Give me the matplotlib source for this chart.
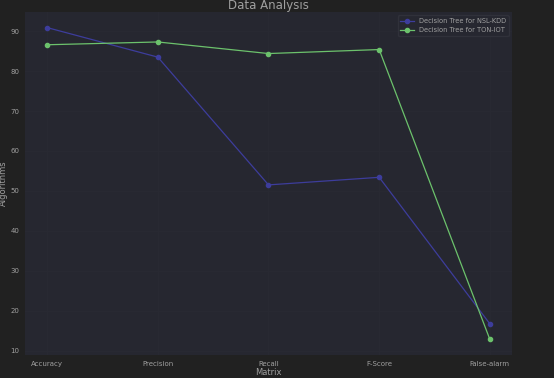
import matplotlib.pyplot as plt

# data
metrics = ["Accuracy", "Precision", "Recall", "F-Score", "False-alarm"]
nsl_kdd = [90.9, 83.5, 51.5, 53.4, 16.7]
ton_iot = [86.6, 87.3, 84.4, 85.4, 12.8]

fig = plt.figure(figsize=(5.54, 3.78), dpi=100, facecolor="#212121")
ax = fig.add_axes([25 / 554, 1 - 355 / 378, 487 / 554, 343 / 378])
ax.set_facecolor("#262730")

ax.plot(metrics, nsl_kdd, marker="o", markersize=3, linewidth=0.9,
        color="#3d3d9c", label="Decision Tree for NSL-KDD")
ax.plot(metrics, ton_iot, marker="o", markersize=3, linewidth=0.9,
        color="#6cc26c", label="Decision Tree for TON-IOT")

ax.grid(True, color="#292a33", linewidth=0.6)
ax.set_axisbelow(True)
for s in ax.spines.values():
    s.set_visible(False)

txt = "#a0a0a0"
ax.tick_params(colors=txt, labelsize=5, length=0, pad=4)
ax.set_yticks([10, 20, 30, 40, 50, 60, 70, 80, 90])
ax.set_title("Data Analysis", color=txt, fontsize=8.5, pad=2)
ax.set_xlabel("Matrix", color=txt, fontsize=6, labelpad=1)
ax.set_ylabel("Algorithms", color=txt, fontsize=6)
ax.yaxis.set_label_coords(-17 / 487, 0.5)

leg = ax.legend(loc="upper right", fontsize=4.8, facecolor="#262730",
                edgecolor="#30313a", labelcolor=txt, framealpha=1)

fig.savefig("out.png", dpi=100, facecolor=fig.get_facecolor())
